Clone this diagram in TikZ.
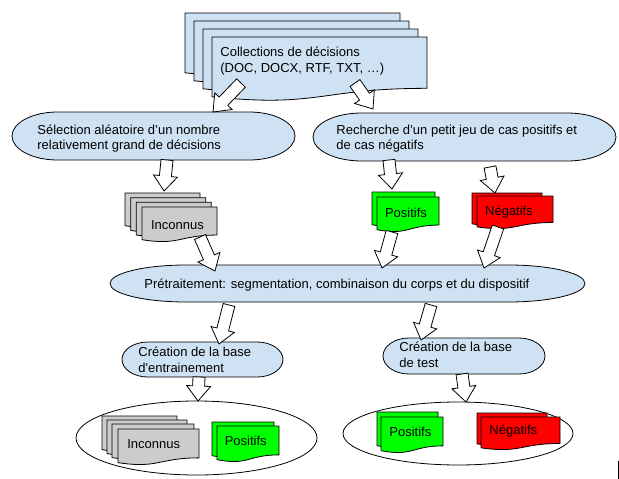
\documentclass[tikz,border=0pt]{standalone}
\usepackage{fontspec}
\setmainfont{Liberation Sans}
\usetikzlibrary{calc,shapes.geometric}

\definecolor{lblue}{HTML}{CFE2F3}
\definecolor{posgreen}{HTML}{00FF00}
\definecolor{negred}{HTML}{FF0000}
\definecolor{docgrey}{HTML}{CCCCCC}

% sheet with wavy bottom: fill, x, y, width, height
\newcommand{\docsheet}[5]{%
  \draw [fill=#1] (#2,#3) -- ({#2+#4},#3) -- ({#2+#4},{#3+0.802*#5})
    .. controls ({#2+0.5*#4},{#3+0.802*#5}) and ({#2+0.5*#4},{#3+1.1075*#5})
    .. (#2,{#3+0.934*#5}) -- cycle;}

% terminator: x, y, width, height
\newcommand{\termbox}[4]{%
  \draw [fill=lblue] ({#1+0.161*#3},#2) -- ({#1+0.839*#3},#2)
    arc [start angle=-90, end angle=90, x radius={0.161*#3}, y radius={0.5*#4}]
    -- ({#1+0.161*#3},{#2+#4})
    arc [start angle=90, end angle=270, x radius={0.161*#3}, y radius={0.5*#4}] -- cycle;}

% white block arrow from tail to head
\newcommand{\blockarrow}[2]{%
  \draw [fill=white] let \p1 = ($(#2)-(#1)$), \n1 = {atan2(\y1,\x1)}, \n2 = {veclen(\x1,\y1)} in
    [shift={(#1)}, rotate=\n1] (0,-6) -- ({\n2-15},-6) -- ({\n2-15},-12) -- (\n2,0)
    -- ({\n2-15},12) -- ({\n2-15},6) -- (0,6) -- cycle;}

\begin{document}
\begin{tikzpicture}[x=1pt, y=-1pt, line width=0.8pt,
    txt/.style={inner sep=0pt, align=left, font=\fontsize{13}{16}\selectfont}]
  \useasboundingbox (0,0) rectangle (619,479);
  % collections
  \docsheet{lblue}{185}{13}{215}{64}
  \docsheet{lblue}{194}{21}{215}{64}
  \docsheet{lblue}{203}{29}{215}{64}
  \docsheet{lblue}{212}{37}{215}{64}
  \node [txt, anchor=west, font=\fontsize{13}{16.5}\selectfont] (coll) at (220,61)
    {Collections de décisions\\(DOC, DOCX, RTF, TXT, …)};
  % selection et recherche
  \termbox{12}{112}{283}{48}
  \node [txt, anchor=west, font=\fontsize{13}{15}\selectfont] (sel) at (37,138.4)
    {Sélection aléatoire d’un nombre\\relativement grand de décisions};
  \termbox{313}{113}{303}{48}
  \node [txt, anchor=west, font=\fontsize{13}{15}\selectfont] (rech) at (336,138.4)
    {Recherche d’un petit jeu de cas positifs et\\de cas négatifs};
  % inconnus
  \docsheet{docgrey}{125}{193}{75}{35}
  \docsheet{docgrey}{130.7}{197.7}{75}{35}
  \docsheet{docgrey}{136.3}{202.3}{75}{35}
  \docsheet{docgrey}{142}{207}{75}{35}
  \node [txt, anchor=base] (inc) at (177.5,229) {Inconnus};
  % positifs et negatifs
  \docsheet{posgreen}{372}{192}{63}{35}
  \docsheet{posgreen}{377}{197}{62}{35}
  \node [txt, anchor=base] (pos) at (406,217.3) {Positifs};
  \docsheet{negred}{472}{193}{70}{33}
  \docsheet{negred}{477}{196}{76}{33}
  \node [txt, anchor=base] (neg) at (509,215) {Négatifs};
  % pretraitement
  \termbox{110}{265}{475}{37}
  \node [txt, anchor=base west] (pre) at (144,288)
    {Prétraitement: segmentation, combinaison du corps et du dispositif};
  % creation des bases
  \termbox{122}{342}{161}{35}
  \node [txt, anchor=west] (entr) at (138,359.8)
    {Création de la base\\d\textquotesingle entrainement};
  \termbox{383}{338}{162}{36}
  \node [txt, anchor=west] (test) at (399,355) {Création de la base\\de test};
  % base d'entrainement
  \node [draw, ellipse, minimum width=241, minimum height=74] (trainset) at (196.5,438) {};
  \docsheet{docgrey}{102}{416}{75}{36}
  \docsheet{docgrey}{107}{420}{80}{36}
  \docsheet{docgrey}{112}{424}{82}{36}
  \docsheet{docgrey}{118}{429}{81}{36}
  \node [txt, anchor=base] (inc2) at (153.7,448.3) {Inconnus};
  \docsheet{posgreen}{212}{422}{62}{36}
  \docsheet{posgreen}{217}{426}{62}{36}
  \node [txt, anchor=base] (pos2) at (245.7,445.7) {Positifs};
  % base de test
  \node [draw, ellipse, minimum width=230, minimum height=63] (testset) at (458,433.5) {};
  \docsheet{posgreen}{377}{412}{61}{36}
  \docsheet{posgreen}{381}{417}{62}{36}
  \node [txt, anchor=base] (pos3) at (410.3,436.7) {Positifs};
  \docsheet{negred}{477}{413}{70}{33}
  \docsheet{negred}{481}{417}{79}{33}
  \node [txt, anchor=base] (neg2) at (513.3,434.3) {Négatifs};
  % arrows
  \coordinate (t1) at (241,83);    \coordinate (h1) at (213,112);
  \coordinate (t2) at (355,83);    \coordinate (h2) at (373,109);
  \coordinate (t3) at (167,160);   \coordinate (h3) at (164,191);
  \coordinate (t4) at (389,160);   \coordinate (h4) at (392,189);
  \coordinate (t5) at (490,167);   \coordinate (h5) at (495,193);
  \coordinate (t6) at (200,237);   \coordinate (h6) at (215,271);
  \coordinate (t7) at (392,232);   \coordinate (h7) at (382,268);
  \coordinate (t8) at (498,227);   \coordinate (h8) at (484,268);
  \coordinate (t9) at (229,305);   \coordinate (h9) at (219,344);
  \coordinate (t10) at (431,305);  \coordinate (h10) at (421,340);
  \coordinate (t11) at (199,377);  \coordinate (h11) at (198,401);
  \coordinate (t12) at (462,374);  \coordinate (h12) at (466,402);
  \blockarrow{t1}{h1}
  \blockarrow{t2}{h2}
  \blockarrow{t3}{h3}
  \blockarrow{t4}{h4}
  \blockarrow{t5}{h5}
  \blockarrow{t6}{h6}
  \blockarrow{t7}{h7}
  \blockarrow{t8}{h8}
  \blockarrow{t9}{h9}
  \blockarrow{t10}{h10}
  \blockarrow{t11}{h11}
  \blockarrow{t12}{h12}
  % mark at the right edge
  \draw (618.5,461) -- (618.5,479);
\end{tikzpicture}
\end{document}
